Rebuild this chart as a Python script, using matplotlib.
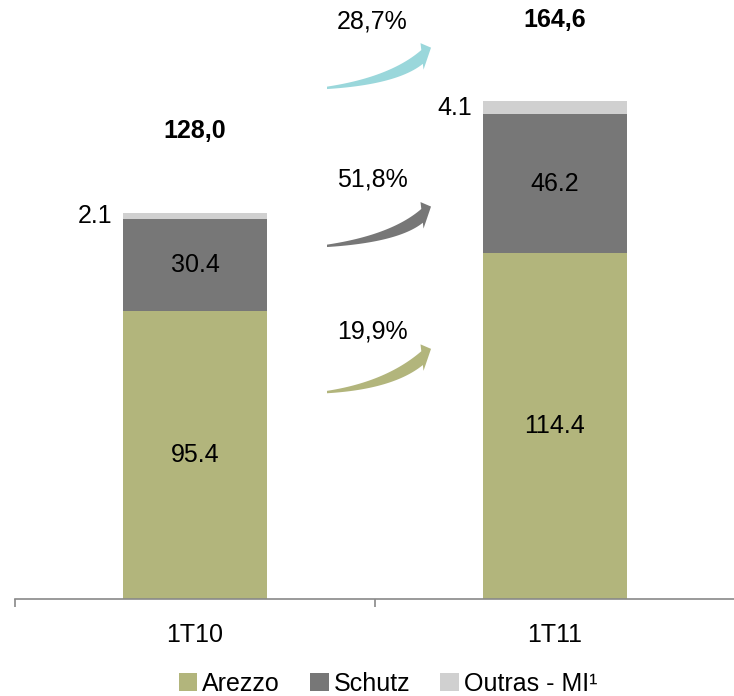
import numpy as np
import matplotlib
matplotlib.use("Agg")
import matplotlib.pyplot as plt
from matplotlib.patches import Polygon, Patch

plt.rcParams['font.family'] = ['Liberation Sans', 'DejaVu Sans']

categories = ["1T10", "1T11"]
arezzo = [95.4, 114.4]
schutz = [30.4, 46.2]
outras = [2.1, 4.1]
totals_txt = ["128,0", "164,6"]
growth_txt = ["19,9%", "51,8%", "28,7%"]
series_names = ["Arezzo", "Schutz", "Outras - MI\u00b9"]

c_arezzo = "#B2B57C"
c_schutz = "#777777"
c_outras = "#D0D0D0"
c_teal = "#9AD7DB"

W, H = 734, 696
fig = plt.figure(figsize=(W / 100, H / 100), dpi=100)
ax = fig.add_axes([15 / W, (H - 599) / H, 720 / W, 574 / H])

x = np.arange(len(categories))
bw = 0.4
ax.bar(x, arezzo, bw, color=c_arezzo, label=series_names[0])
ax.bar(x, schutz, bw, bottom=arezzo, color=c_schutz, label=series_names[1])
bot3 = np.array(arezzo) + np.array(schutz)
ax.bar(x, outras, bw, bottom=bot3, color=c_outras, label=series_names[2])

ax.set_xlim(-0.5, 1.5)
ax.set_ylim(0, 190)

fs = 18
for i in range(len(categories)):
    ax.text(x[i], arezzo[i] / 2, f"{arezzo[i]:.1f}", ha="center", va="center", fontsize=fs)
    ax.text(x[i], arezzo[i] + schutz[i] / 2, f"{schutz[i]:.1f}", ha="center", va="center", fontsize=fs)
    ax.annotate(f"{outras[i]:.1f}", xy=(x[i] - bw / 2, bot3[i] + outras[i] / 2),
                xytext=(-8, 0), textcoords="offset points", ha="right", va="center", fontsize=fs)
    tot = arezzo[i] + schutz[i] + outras[i]
    ax.text(x[i], tot + 27, totals_txt[i], ha="center", va="center", fontsize=fs, fontweight="bold")

# growth labels and arrows
label_y = [88.7, 138.7, 191.0]
tails = [(0.3667, 68.5), (0.3667, 116.9), (0.3667, 169.2)]
tips = [(0.6556, 82.8), (0.6556, 129.9), (0.6556, 182.5)]
acolors = [c_arezzo, c_schutz, c_teal]
for i in range(3):
    ax.text(0.4917, label_y[i], growth_txt[i], ha="center", va="center", fontsize=fs)


def bez(a, c, b, n=80):
    t = np.linspace(0, 1, n)[:, None]
    return (1 - t) ** 2 * a + 2 * (1 - t) * t * c + t ** 2 * b


def curved_arrow(ax, tail, tip, color):
    T = ax.transData
    p0 = np.array(T.transform(tail))
    pt = np.array(T.transform(tip))
    # skewed arrow head (display pixels, y up)
    U = pt + np.array([-10.5, 4.5])
    L = pt + np.array([-7.5, -22.0])
    Ue = U + 0.26 * (L - U)
    Le = U + 0.78 * (L - U)
    hb = 0.5 * (Ue + Le)
    a0 = np.deg2rad(6)
    a1 = np.deg2rad(40)
    u0 = np.array([np.cos(a0), np.sin(a0)])
    u1 = np.array([np.cos(a1), np.sin(a1)])
    s = np.linalg.solve(np.column_stack([u0, -u1]), hb - p0)
    c = p0 + s[0] * u0
    up = bez(p0 + np.array([0, 1.2]), c + np.array([-3.5, 3.8]), Ue)
    lo = bez(p0 - np.array([0, 1.2]), c + np.array([3.5, -3.8]), Le)
    poly = np.vstack([up, [U, pt, L], lo[::-1]])
    poly_data = T.inverted().transform(poly)
    ax.add_patch(Polygon(poly_data, closed=True, facecolor=color, edgecolor="none",
                         clip_on=False, transform=ax.transData))


for i in range(3):
    curved_arrow(ax, tails[i], tips[i], acolors[i])

# axes styling
for sp in ["left", "right", "top"]:
    ax.spines[sp].set_visible(False)
ax.spines["bottom"].set_color("#898989")
ax.spines["bottom"].set_linewidth(1.2)
ax.set_yticks([])
ax.set_xticks([-0.5, 0.5, 1.5])
ax.set_xticklabels([])
ax.tick_params(axis="x", which="major", length=6, width=1.2, color="#898989", direction="out")
ax.set_xticks(x, minor=True)
ax.set_xticklabels(categories, minor=True, fontsize=fs)
ax.tick_params(axis="x", which="minor", length=0, pad=17)

handles = [Patch(facecolor=c_arezzo), Patch(facecolor=c_schutz), Patch(facecolor=c_outras)]
fig.legend(handles, series_names, loc="center", bbox_to_anchor=(388 / W, 12 / H),
           ncol=3, frameon=False, fontsize=fs, handlelength=0.75, handleheight=0.75,
           handletextpad=0.2, columnspacing=1.2, borderaxespad=0)

fig.savefig("out.png", dpi=100)
